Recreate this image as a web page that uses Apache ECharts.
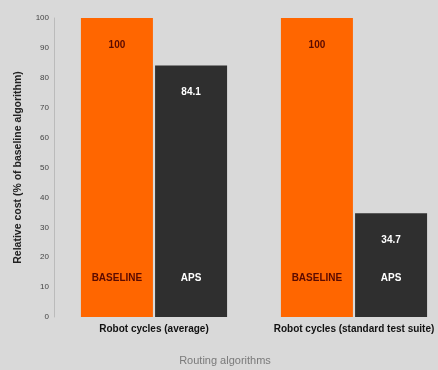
<!DOCTYPE html>
<html>
<head>
<meta charset="utf-8">
<script src="https://cdn.jsdelivr.net/npm/echarts@6/dist/echarts.min.js"></script>
<style>html,body{margin:0;padding:0;background:#d9d9d9;}#c{width:438px;height:370px;}</style>
</head>
<body>
<div id="c"></div>
<script>
const categories = ['Robot cycles (average)', 'Robot cycles (standard test suite)'];
const seriesNames = ['BASELINE', 'APS'];
const baselineValues = [100, 100];
const apsValues = [84.1, 34.7];
const yTicks = [0, 10, 20, 30, 40, 50, 60, 70, 80, 90, 100];

const chart = echarts.init(document.getElementById('c'));
const barW = 72;
const valueLabel = (color) => ({
  show: true, position: 'insideTop', distance: 22,
  color: color, fontSize: 10, fontWeight: 'bold', fontFamily: 'Liberation Sans',
  formatter: (p) => String(p.value)
});
const nameLabel = (color) => ({
  show: true, position: 'insideBottom', distance: 34,
  color: color, fontSize: 10, fontWeight: 'bold', fontFamily: 'Liberation Sans',
  formatter: (p) => p.seriesName
});
chart.setOption({
  backgroundColor: '#d9d9d9',
  animation: false,
  grid: { left: 54, right: -16, top: 18, bottom: 53, outerBoundsMode: 'none', containLabel: false },
  xAxis: [{
    type: 'category', data: categories,
    axisLine: { show: false }, axisTick: { show: false },
    axisLabel: { interval: 0, hideOverlap: false, color: '#111', fontSize: 10, fontWeight: 'bold', fontFamily: 'Liberation Sans', margin: 7 },
    name: 'Routing algorithms', nameLocation: 'middle', nameGap: 38,
    nameTextStyle: { color: '#7a7a7a', fontSize: 11, fontFamily: 'Liberation Sans', padding: [0, 0, 0, -58] }
  }, {
    type: 'category', data: categories, show: false
  }],
  yAxis: {
    type: 'value', min: 0, max: 100, interval: 10,
    axisLine: { show: true, lineStyle: { color: '#bbb' } },
    axisTick: { show: false },
    splitLine: { show: false },
    axisLabel: { color: '#444', fontSize: 8, fontFamily: 'Liberation Sans', margin: 5,
      formatter: (v) => yTicks.includes(v) ? String(v) : '' },
    name: 'Relative cost (% of baseline algorithm)', nameLocation: 'middle', nameGap: 30,
    nameTextStyle: { color: '#222', fontSize: 10.5, fontWeight: 'bold', fontFamily: 'Liberation Sans' }
  },
  series: [
    { name: seriesNames[0], type: 'bar', data: baselineValues, barWidth: barW, barGap: '3%',
      itemStyle: { color: '#ff6600' }, label: valueLabel('#5a0a00') },
    { name: seriesNames[1], type: 'bar', data: apsValues, barWidth: barW, barGap: '3%',
      itemStyle: { color: '#2f2f2f' }, label: valueLabel('#ffffff') },
    { name: seriesNames[0], type: 'bar', xAxisIndex: 1, data: baselineValues, barWidth: barW, barGap: '3%',
      itemStyle: { color: 'rgba(0,0,0,0)' }, label: nameLabel('#5a0a00'), silent: true },
    { name: seriesNames[1], type: 'bar', xAxisIndex: 1, data: apsValues, barWidth: barW, barGap: '3%',
      itemStyle: { color: 'rgba(0,0,0,0)' }, label: nameLabel('#ffffff'), silent: true }
  ]
});
</script>
</body>
</html>
